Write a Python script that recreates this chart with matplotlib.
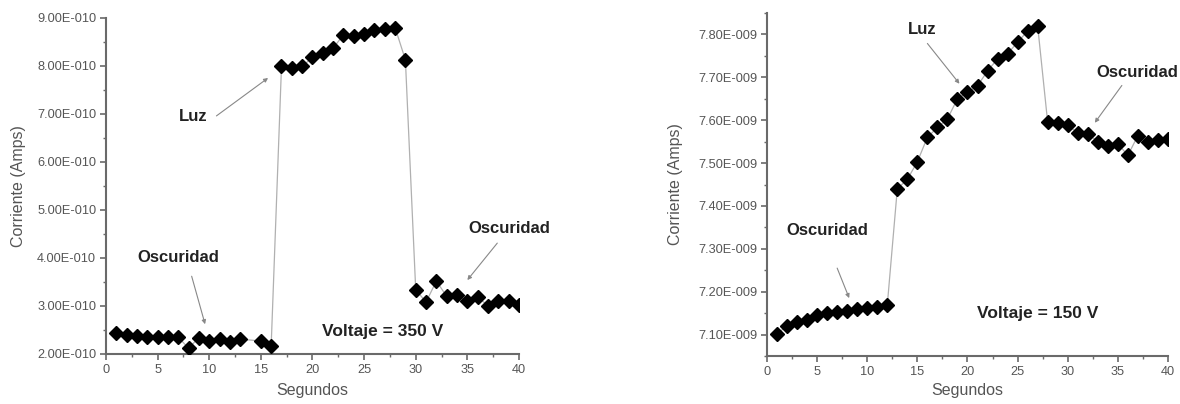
import matplotlib
matplotlib.use("Agg")
import matplotlib.pyplot as plt
from matplotlib.ticker import FuncFormatter, MultipleLocator

plt.rcParams["font.family"] = ["Liberation Sans", "DejaVu Sans"]

# ---- data ----
t_350 = [1, 2, 3, 4, 5, 6, 7, 8, 9, 10, 11, 12, 13, 15, 16, 17, 18, 19, 20, 21, 22, 23, 24,
         25, 26, 27, 28, 29, 30, 31, 32, 33, 34, 35, 36, 37, 38, 39, 40]
i_350 = [2.44e-10, 2.40e-10, 2.38e-10, 2.35e-10, 2.35e-10, 2.35e-10, 2.35e-10, 2.12e-10,
         2.34e-10, 2.27e-10, 2.32e-10, 2.24e-10, 2.31e-10, 2.27e-10, 2.17e-10,
         7.99e-10, 7.95e-10, 7.99e-10, 8.18e-10, 8.28e-10, 8.37e-10, 8.65e-10, 8.62e-10,
         8.67e-10, 8.74e-10, 8.77e-10, 8.80e-10, 8.13e-10,
         3.34e-10, 3.08e-10, 3.52e-10, 3.20e-10, 3.23e-10, 3.10e-10, 3.18e-10, 3.01e-10,
         3.10e-10, 3.10e-10, 3.03e-10]

t_150 = list(range(1, 41))
i_150 = [7.102e-9, 7.120e-9, 7.130e-9, 7.135e-9, 7.145e-9, 7.150e-9, 7.152e-9, 7.156e-9,
         7.159e-9, 7.162e-9, 7.165e-9, 7.169e-9, 7.440e-9, 7.462e-9, 7.503e-9, 7.560e-9,
         7.583e-9, 7.603e-9, 7.650e-9, 7.665e-9, 7.680e-9, 7.715e-9, 7.743e-9, 7.755e-9,
         7.782e-9, 7.808e-9, 7.820e-9, 7.595e-9, 7.594e-9, 7.589e-9, 7.570e-9, 7.568e-9,
         7.550e-9, 7.540e-9, 7.545e-9, 7.518e-9, 7.564e-9, 7.550e-9, 7.553e-9, 7.555e-9]

xlabel = "Segundos"
ylabel = "Corriente (Amps)"

axis_col = "#6a6a6a"
text_col = "#555555"

fig = plt.figure(figsize=(11.8, 4.04), dpi=100)
ax1 = fig.add_axes([0.0898, 0.1238, 0.350, 0.8317])
ax2 = fig.add_axes([0.650, 0.1188, 0.3398, 0.849])


def style(ax, ylab_x, xlab_y):
    for s in ["top", "right"]:
        ax.spines[s].set_visible(False)
    for s in ["left", "bottom"]:
        ax.spines[s].set_color(axis_col)
        ax.spines[s].set_linewidth(1.5)
    ax.tick_params(which="major", direction="out", length=4, width=1.2, color=axis_col,
                   labelsize=9.2, labelcolor=text_col, pad=3)
    ax.tick_params(which="minor", direction="out", length=2.5, width=1.0, color=axis_col)
    ax.set_xlim(0, 40)
    ax.xaxis.set_major_locator(MultipleLocator(5))
    ax.xaxis.set_minor_locator(MultipleLocator(2.5))
    ax.set_xlabel(xlabel, fontsize=11.5, color=text_col)
    ax.set_ylabel(ylabel, fontsize=11.5, color=text_col)
    ax.xaxis.set_label_coords(0.5, xlab_y)
    ax.yaxis.set_label_coords(ylab_x, 0.5)
    ax.xaxis.get_offset_text().set_visible(False)
    ax.yaxis.get_offset_text().set_visible(False)


ann = dict(fontsize=12, fontweight="bold", color="#222222", ha="center", va="center")
volt = dict(fontsize=12.5, fontweight="bold", color="#222222", ha="center", va="center")
arr = dict(arrowstyle="-|>", color="#888888", lw=0.8, mutation_scale=6, shrinkA=0, shrinkB=0)

# ---- left panel (350 V) ----
ax1.plot(t_350, i_350, color="#b0b0b0", lw=0.9, marker="D", ms=7.5,
         mfc="black", mec="black", zorder=3)
style(ax1, -0.194, -0.086)
ax1.set_ylim(2e-10, 9e-10)
ax1.yaxis.set_major_locator(MultipleLocator(1e-10))
ax1.yaxis.set_minor_locator(MultipleLocator(0.5e-10))
ax1.yaxis.set_major_formatter(FuncFormatter(lambda v, p: f"{v/1e-10:.2f}E-010"))

ax1.text(8.4, 6.94e-10, "Luz", **ann)
ax1.annotate("", xy=(15.7, 7.75e-10), xytext=(10.7, 6.96e-10), arrowprops=arr)
ax1.text(7.0, 4.0e-10, "Oscuridad", **ann)
ax1.annotate("", xy=(9.6, 2.62e-10), xytext=(8.3, 3.62e-10), arrowprops=arr)
ax1.text(39.1, 4.62e-10, "Oscuridad", **ann)
ax1.annotate("", xy=(35.0, 3.54e-10), xytext=(37.9, 4.31e-10), arrowprops=arr)
ax1.text(26.8, 2.46e-10, "Voltaje = 350 V", **volt)

# ---- right panel (150 V) ----
ax2.plot(t_150, i_150, color="#b0b0b0", lw=0.9, marker="D", ms=7.5,
         mfc="black", mec="black", zorder=3)
style(ax2, -0.209, -0.08)
ax2.set_ylim(7.05e-9, 7.85e-9)
ax2.set_yticks([7.10e-9, 7.20e-9, 7.30e-9, 7.40e-9, 7.50e-9, 7.60e-9, 7.70e-9, 7.80e-9])
ax2.yaxis.set_minor_locator(MultipleLocator(0.05e-9))
ax2.yaxis.set_major_formatter(FuncFormatter(lambda v, p: f"{v/1e-9:.2f}E-009"))

ax2.text(15.5, 7.812e-9, "Luz", **ann)
ax2.annotate("", xy=(19.2, 7.685e-9), xytext=(16.0, 7.779e-9), arrowprops=arr)
ax2.text(36.9, 7.711e-9, "Oscuridad", **ann)
ax2.annotate("", xy=(32.7, 7.594e-9), xytext=(35.4, 7.681e-9), arrowprops=arr)
ax2.text(6.0, 7.342e-9, "Oscuridad", **ann)
ax2.annotate("", xy=(8.2, 7.185e-9), xytext=(7.0, 7.255e-9), arrowprops=arr)
ax2.text(27.0, 7.15e-9, "Voltaje = 150 V", **volt)

fig.savefig("out.png", dpi=100)
